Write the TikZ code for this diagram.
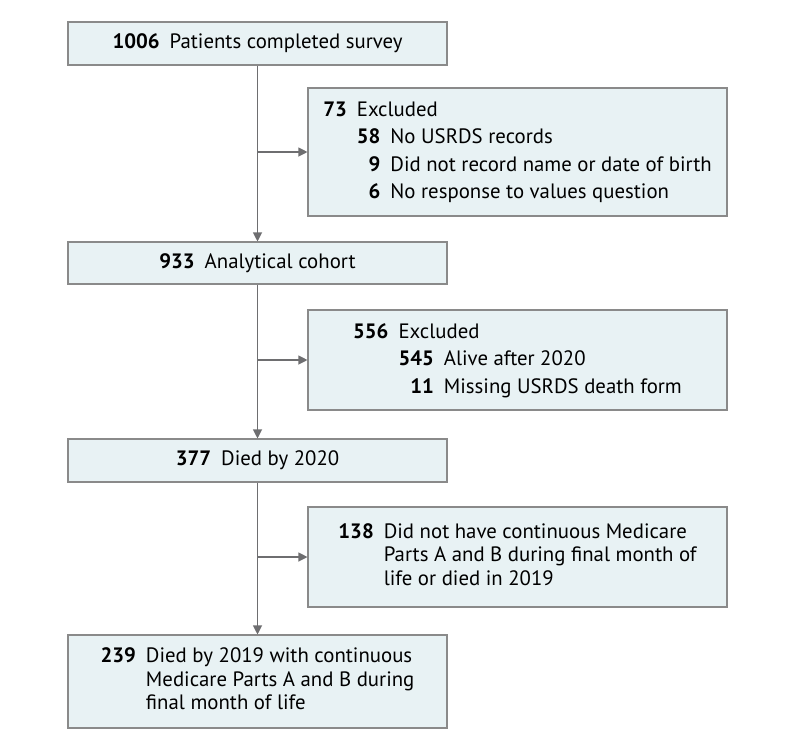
\documentclass[tikz,border=0pt]{standalone}
\usepackage{fontspec}
\setmainfont{PT Sans}
\usetikzlibrary{arrows.meta}
\definecolor{boxFill}{RGB}{232,242,244}
\definecolor{boxLine}{RGB}{138,138,138}
\definecolor{arrowGray}{RGB}{110,110,112}
\begin{document}
\begin{tikzpicture}[x=1pt,y=-1pt,
    flowBox/.style={draw=boxLine,line width=1.1pt,fill=boxFill,minimum width=379pt,inner sep=0pt,align=center,
        font=\fontsize{20.8}{23.5}\selectfont},
    exclBox/.style={flowBox,minimum width=419pt},
    flowArrow/.style={-{Triangle[length=9pt,width=9pt]},line width=1.1pt,color=arrowGray},
]
\useasboundingbox (0,0) rectangle (794,748);
\node[flowBox,minimum height=43pt] (SURVEY) at (257.5,43.5) {\textbf{1006}\hspace{10pt}Patients completed survey};
\node[exclBox,minimum height=128pt] (EXCLA) at (517.5,152) {\renewcommand{\arraystretch}{1.17}%
    \begin{tabular}{@{}r@{\hspace{10pt}}r@{\hspace{10pt}}l@{}}
    \textbf{73} & \multicolumn{2}{@{}l@{}}{Excluded}\\
    & \textbf{58} & No USRDS records\\
    & \textbf{9} & Did not record name or date of birth\\
    & \textbf{6} & No response to values question
    \end{tabular}};
\node[flowBox,minimum height=42pt] (COHORT) at (257.5,263) {\textbf{933}\hspace{10pt}Analytical cohort};
\node[exclBox,minimum height=100pt] (EXCLB) at (517.5,360) {\renewcommand{\arraystretch}{1.17}%
    \begin{tabular}{@{}r@{\hspace{10pt}}r@{\hspace{10pt}}l@{}}
    \textbf{556} & \multicolumn{2}{@{}l@{}}{Excluded}\\
    & \textbf{545} & Alive after 2020\\
    & \textbf{11} & Missing USRDS death form
    \end{tabular}};
\node[flowBox,minimum height=43pt] (DIED) at (257.5,460.5) {\textbf{377}\hspace{10pt}Died by 2020};
\node[exclBox,minimum height=100pt] (EXCLC) at (517.5,557) {%
    \begin{tabular}{@{}r@{\hspace{10pt}}l@{}}
    \textbf{138} & Did not have continuous Medicare\\
    & Parts A and B during final month of\\
    & life or died in 2019
    \end{tabular}};
\node[flowBox,minimum height=93pt] (FINAL) at (257.5,681.5) {%
    \begin{tabular}{@{}r@{\hspace{10pt}}l@{}}
    \textbf{239} & Died by 2019 with continuous\\
    & Medicare Parts A and B during\\
    & final month of life
    \end{tabular}};
% main flow
\draw[flowArrow] (SURVEY.south) -- (COHORT.north);
\draw[flowArrow] (COHORT.south) -- (DIED.north);
\draw[flowArrow] (DIED.south) -- (FINAL.north);
% exclusions
\draw[flowArrow] (SURVEY.south |- EXCLA.west) -- (EXCLA.west);
\draw[flowArrow] (COHORT.south |- EXCLB.west) -- (EXCLB.west);
\draw[flowArrow] (DIED.south |- EXCLC.west) -- (EXCLC.west);
\end{tikzpicture}
\end{document}
